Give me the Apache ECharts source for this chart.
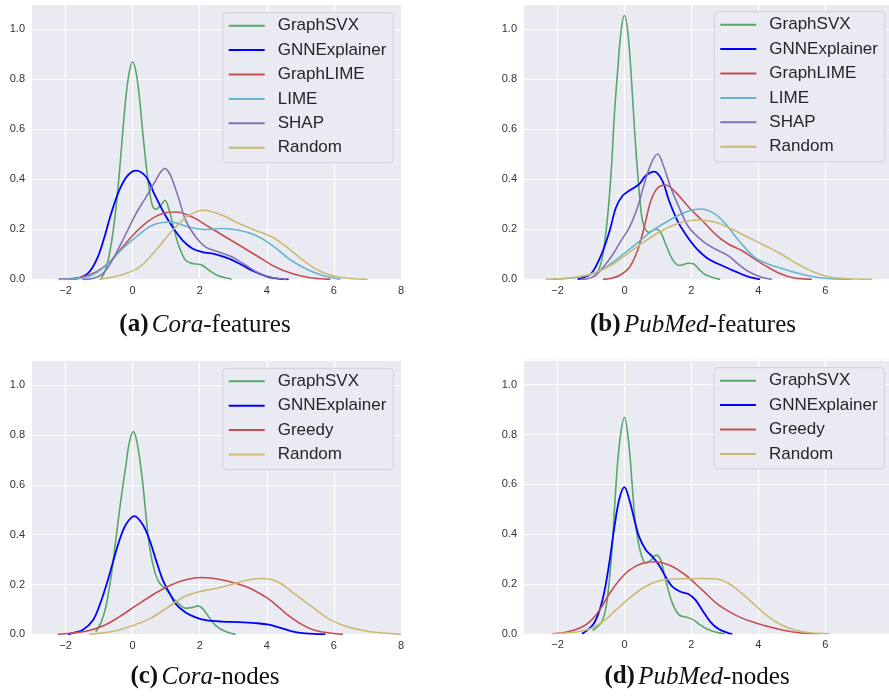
<!DOCTYPE html>
<html>
<head>
<meta charset="utf-8">
<script src="https://cdn.jsdelivr.net/npm/echarts@6/dist/echarts.min.js"></script>
<style>
html,body{margin:0;padding:0;background:#fff;}
#chart{width:889px;height:697px;}
</style>
</head>
<body>
<div id="chart"></div>
<script>
// ---------- tick labels ----------
const X_TICKS_CORA = [-2, 0, 2, 4, 6, 8];
const X_TICKS_PUBMED = [-2, 0, 2, 4, 6];
const Y_TICKS = [0, 0.2, 0.4, 0.6, 0.8, 1.0];

// ---------- captions ----------
const CAPTIONS = [
  ['(a)', 'Cora', '-features'],
  ['(b)', 'PubMed', '-features'],
  ['(c)', 'Cora', '-nodes'],
  ['(d)', 'PubMed', '-nodes']
];

// ---------- legend entries ----------
const LEGEND_FEATURES = ['GraphSVX', 'GNNExplainer', 'GraphLIME', 'LIME', 'SHAP', 'Random'];
const LEGEND_NODES = ['GraphSVX', 'GNNExplainer', 'Greedy', 'Random'];

// ---------- (a) Cora-features : density curves [x, density] ----------
const A_GraphSVX = [[-0.95,0],[-0.8,0.04],[-0.64,0.14],[-0.5,0.28],[-0.4,0.42],[-0.3,0.58],[-0.2,0.73],[-0.1,0.83],[0,0.87],[0.1,0.83],[0.2,0.73],[0.3,0.59],[0.4,0.46],[0.5,0.355],[0.59,0.295],[0.69,0.28],[0.84,0.296],[0.96,0.316],[1.09,0.276],[1.24,0.196],[1.39,0.129],[1.58,0.076],[1.78,0.063],[2.03,0.059],[2.28,0.036],[2.57,0.013],[2.87,0.003],[2.95,0]];
const A_GNNExplainer = [[-2.2,0],[-1.88,0.001],[-1.58,0.006],[-1.29,0.03],[-1.04,0.089],[-0.84,0.169],[-0.64,0.263],[-0.4,0.356],[-0.15,0.415],[0.1,0.435],[0.4,0.41],[0.64,0.343],[0.89,0.276],[1.19,0.209],[1.49,0.156],[1.78,0.123],[2.08,0.109],[2.48,0.1],[2.87,0.083],[3.27,0.056],[3.66,0.029],[4.06,0.009],[4.46,0.001],[4.65,0]];
const A_GraphLIME = [[-2.2,0],[-1.98,0.001],[-1.49,0.009],[-1.09,0.029],[-0.69,0.069],[-0.3,0.129],[0.1,0.189],[0.5,0.236],[0.89,0.263],[1.29,0.269],[1.78,0.249],[2.28,0.209],[2.77,0.169],[3.27,0.129],[3.76,0.089],[4.26,0.049],[4.75,0.023],[5.25,0.007],[5.6,0.002],[5.9,0]];
const A_LIME = [[-2.2,0],[-1.49,0.005],[-1.09,0.025],[-0.69,0.069],[-0.3,0.123],[0.1,0.169],[0.59,0.216],[1.14,0.229],[1.68,0.209],[2.18,0.199],[2.67,0.203],[3.17,0.196],[3.66,0.176],[4.16,0.136],[4.65,0.083],[5.15,0.043],[5.64,0.016],[6.04,0.004],[6.2,0]];
const A_SHAP = [[-1.5,0],[-1.19,0.003],[-0.89,0.023],[-0.64,0.069],[-0.4,0.129],[-0.15,0.196],[0.1,0.263],[0.4,0.329],[0.69,0.396],[0.83,0.428],[0.96,0.443],[1.08,0.428],[1.19,0.396],[1.39,0.316],[1.58,0.236],[1.88,0.169],[2.18,0.129],[2.57,0.109],[2.97,0.089],[3.37,0.056],[3.76,0.025],[4.16,0.007],[4.6,0]];
const A_Random = [[-1.0,0],[-0.79,0.004],[-0.3,0.019],[0.2,0.049],[0.69,0.116],[1.19,0.196],[1.68,0.256],[2.13,0.276],[2.67,0.256],[3.17,0.223],[3.66,0.196],[4.16,0.169],[4.65,0.123],[5.15,0.069],[5.64,0.029],[6.14,0.009],[6.6,0.002],[7.0,0]];

// ---------- (b) PubMed-features ----------
const B_GraphSVX = [[-0.9,0.01],[-0.76,0.04],[-0.64,0.1],[-0.49,0.27],[-0.39,0.445],[-0.3,0.66],[-0.2,0.84],[-0.1,0.995],[0,1.055],[0.1,0.99],[0.2,0.82],[0.3,0.6],[0.42,0.38],[0.52,0.248],[0.62,0.201],[0.74,0.188],[0.94,0.201],[1.08,0.188],[1.23,0.141],[1.43,0.081],[1.63,0.055],[1.92,0.064],[2.07,0.061],[2.22,0.041],[2.41,0.019],[2.71,0.004],[2.86,0]];
const B_GNNExplainer = [[-1.4,0],[-1.03,0.019],[-0.84,0.055],[-0.64,0.115],[-0.44,0.195],[-0.25,0.288],[-0.05,0.335],[0.15,0.355],[0.44,0.381],[0.64,0.415],[0.89,0.431],[1.13,0.395],[1.33,0.315],[1.58,0.235],[1.82,0.181],[2.12,0.128],[2.51,0.081],[2.91,0.055],[3.3,0.032],[3.69,0.011],[4.05,0]];
const B_GraphLIME = [[-0.64,0],[-0.44,0.003],[-0.15,0.015],[0.15,0.048],[0.39,0.115],[0.59,0.208],[0.79,0.315],[0.99,0.365],[1.21,0.377],[1.53,0.348],[1.92,0.288],[2.32,0.235],[2.71,0.181],[3.1,0.141],[3.5,0.115],[3.89,0.081],[4.29,0.048],[4.68,0.021],[5.07,0.005],[5.6,0]];
const B_LIME = [[-2.2,0],[-1.63,0.004],[-1.13,0.015],[-0.64,0.041],[-0.15,0.088],[0.34,0.141],[0.84,0.195],[1.33,0.235],[1.82,0.268],[2.27,0.281],[2.71,0.261],[3.1,0.208],[3.5,0.141],[3.89,0.088],[4.29,0.061],[4.68,0.044],[5.07,0.028],[5.57,0.012],[6.06,0.003],[6.8,0]];
const B_SHAP = [[-1.3,0],[-1.13,0.001],[-0.84,0.019],[-0.59,0.055],[-0.34,0.101],[-0.1,0.155],[0.15,0.208],[0.39,0.288],[0.59,0.381],[0.79,0.461],[0.99,0.501],[1.18,0.448],[1.38,0.368],[1.63,0.288],[1.92,0.208],[2.32,0.155],[2.71,0.121],[3.1,0.095],[3.4,0.061],[3.69,0.032],[4.09,0.008],[4.4,0]];
const B_Random = [[-2.36,0],[-1.82,0.003],[-1.33,0.011],[-0.84,0.028],[-0.34,0.061],[0.15,0.108],[0.64,0.155],[1.13,0.195],[1.63,0.224],[2.17,0.237],[2.71,0.228],[3.2,0.201],[3.69,0.168],[4.19,0.135],[4.68,0.101],[5.17,0.061],[5.67,0.028],[6.16,0.008],[6.7,0.002],[7.4,0]];

// ---------- (c) Cora-nodes ----------
const C_GraphSVX = [[-1.1,0.01],[-0.94,0.048],[-0.79,0.115],[-0.64,0.235],[-0.5,0.381],[-0.35,0.541],[-0.2,0.68],[-0.1,0.77],[0.02,0.815],[0.1,0.79],[0.2,0.715],[0.3,0.608],[0.4,0.475],[0.5,0.355],[0.64,0.261],[0.79,0.208],[0.99,0.181],[1.19,0.148],[1.39,0.121],[1.58,0.104],[1.78,0.108],[1.95,0.114],[2.08,0.104],[2.28,0.068],[2.48,0.035],[2.77,0.011],[3.07,0]];
const C_GNNExplainer = [[-1.93,0],[-1.83,0.004],[-1.49,0.017],[-1.19,0.055],[-0.99,0.115],[-0.79,0.195],[-0.59,0.288],[-0.4,0.375],[-0.2,0.441],[0.05,0.475],[0.3,0.441],[0.5,0.381],[0.69,0.301],[0.89,0.221],[1.09,0.168],[1.29,0.121],[1.58,0.088],[1.88,0.068],[2.18,0.057],[2.67,0.051],[3.17,0.049],[3.66,0.045],[4.06,0.039],[4.36,0.028],[4.75,0.012],[5.15,0.004],[5.75,0]];
const C_Greedy = [[-2.23,0],[-1.88,0.004],[-1.39,0.012],[-0.89,0.033],[-0.4,0.07],[0.1,0.115],[0.59,0.158],[1.09,0.195],[1.58,0.219],[2.08,0.228],[2.57,0.221],[3.07,0.205],[3.56,0.181],[4.06,0.141],[4.36,0.108],[4.65,0.075],[5.05,0.039],[5.45,0.015],[5.94,0.004],[6.27,0]];
const C_Random = [[-1.29,0],[-0.99,0.004],[-0.5,0.014],[0,0.035],[0.5,0.062],[0.99,0.103],[1.49,0.148],[1.98,0.171],[2.48,0.184],[2.97,0.201],[3.47,0.219],[3.91,0.224],[4.36,0.208],[4.85,0.16],[5.35,0.11],[5.84,0.062],[6.34,0.033],[6.8,0.017],[7.3,0.007],[8.0,0]];

// ---------- (d) PubMed-nodes ----------
const D_GraphSVX = [[-0.95,0.012],[-0.89,0.02],[-0.69,0.045],[-0.56,0.1],[-0.46,0.203],[-0.36,0.363],[-0.27,0.563],[-0.15,0.763],[0,0.869],[0.13,0.763],[0.25,0.563],[0.34,0.429],[0.49,0.323],[0.64,0.283],[0.79,0.296],[0.94,0.316],[1.08,0.296],[1.23,0.216],[1.43,0.123],[1.63,0.076],[1.82,0.067],[2.02,0.059],[2.22,0.04],[2.46,0.019],[2.71,0.007],[3.0,0]];
const D_GNNExplainer = [[-1.27,0],[-1.23,0.003],[-0.94,0.036],[-0.74,0.096],[-0.59,0.176],[-0.44,0.296],[-0.3,0.429],[-0.15,0.543],[0,0.589],[0.15,0.536],[0.3,0.456],[0.44,0.389],[0.64,0.336],[0.84,0.309],[1.03,0.276],[1.23,0.229],[1.43,0.189],[1.67,0.169],[1.92,0.159],[2.12,0.136],[2.32,0.096],[2.56,0.049],[2.81,0.019],[3.1,0.003],[3.22,0]];
const D_Greedy = [[-2.12,0],[-1.72,0.007],[-1.33,0.023],[-1.03,0.049],[-0.74,0.096],[-0.44,0.163],[-0.15,0.216],[0.15,0.256],[0.54,0.283],[0.89,0.289],[1.33,0.276],[1.82,0.236],[2.32,0.176],[2.81,0.116],[3.3,0.076],[3.79,0.049],[4.29,0.029],[4.78,0.013],[5.27,0.003],[5.84,0]];
const D_Random = [[-2.17,0],[-1.92,0.002],[-1.43,0.007],[-1.03,0.02],[-0.64,0.049],[-0.25,0.096],[0.15,0.143],[0.54,0.183],[0.94,0.209],[1.33,0.219],[1.8,0.221],[2.3,0.222],[2.71,0.221],[3.1,0.203],[3.5,0.163],[3.89,0.116],[4.29,0.069],[4.68,0.036],[5.07,0.016],[5.47,0.005],[6.14,0]];

// ---------- styling ----------
const COLORS = {
  GraphSVX: '#55A868', GNNExplainer: '#0000FF', GraphLIME: '#C44E52',
  Greedy: '#C44E52', LIME: '#64B5CD', SHAP: '#8172B2', Random: '#CCB974'
};
const BG = '#EAEAF2';
const TXT = '#333333';
const SANS = 'Liberation Sans, Arial, sans-serif';
const SERIF = 'Liberation Serif, Times New Roman, serif';

const panels = [
  { grid: {left: 32, top: 4.3, width: 369, height: 275}, xMin: -3, xMax: 8, xTicks: X_TICKS_CORA,
    legend: {left: 222.7, top: 12.7}, names: LEGEND_FEATURES,
    data: [A_GraphSVX, A_GNNExplainer, A_GraphLIME, A_LIME, A_SHAP, A_Random],
    caption: {x: 205, y: 325} },
  { grid: {left: 524, top: 4.3, width: 365, height: 275}, xMin: -3, xMax: 7.9, xTicks: X_TICKS_PUBMED,
    legend: {left: 714.3, top: 11.7}, names: LEGEND_FEATURES,
    data: [B_GraphSVX, B_GNNExplainer, B_GraphLIME, B_LIME, B_SHAP, B_Random],
    caption: {x: 693, y: 325} },
  { grid: {left: 32, top: 360.5, width: 369, height: 273.8}, xMin: -3, xMax: 8, xTicks: X_TICKS_CORA,
    legend: {left: 222.7, top: 368.3}, names: LEGEND_NODES,
    data: [C_GraphSVX, C_GNNExplainer, C_Greedy, C_Random],
    caption: {x: 205, y: 677} },
  { grid: {left: 524, top: 359.8, width: 365, height: 274}, xMin: -3, xMax: 7.9, xTicks: X_TICKS_PUBMED,
    legend: {left: 714, top: 367.7}, names: LEGEND_NODES,
    data: [D_GraphSVX, D_GNNExplainer, D_Greedy, D_Random],
    caption: {x: 697, y: 677} }
];

const option = {
  animation: false,
  backgroundColor: '#ffffff',
  grid: [], xAxis: [], yAxis: [], series: [], legend: [], graphic: []
};

panels.forEach((p, i) => {
  option.grid.push(Object.assign({show: true, backgroundColor: BG, borderWidth: 0, containLabel: false}, p.grid));
  option.xAxis.push({
    type: 'value', gridIndex: i, min: p.xMin, max: p.xMax,
    axisLine: {show: false},
    axisTick: {show: false, customValues: p.xTicks},
    axisLabel: {customValues: p.xTicks, color: TXT, fontSize: 11, fontFamily: SANS, margin: 6,
      formatter: v => String(v).replace('-', '\u2212')},
    splitLine: {show: true, lineStyle: {color: '#ffffff', width: 1.2}}
  });
  option.yAxis.push({
    type: 'value', gridIndex: i, min: 0, max: 1.1, interval: 0.2,
    axisLine: {show: false}, axisTick: {show: false},
    axisLabel: {color: TXT, fontSize: 11, fontFamily: SANS, margin: 7,
      formatter: v => (v > 1.05 ? '' : v.toFixed(1))},
    splitLine: {show: true, lineStyle: {color: '#ffffff', width: 1.2}}
  });
  p.names.forEach((name, k) => {
    option.series.push({
      type: 'line', name: name, xAxisIndex: i, yAxisIndex: i,
      data: p.data[k], smooth: 0.35, symbol: 'none', clip: true,
      lineStyle: {color: COLORS[name], width: name === 'GNNExplainer' ? 1.8 : 1.6},
      itemStyle: {color: COLORS[name]}
    });
  });
  option.legend.push({
    data: p.names, orient: 'vertical', left: p.legend.left, top: p.legend.top,
    icon: 'rect', itemWidth: 36, itemHeight: 2, itemGap: 4.4,
    padding: [3, 7, 5, 6],
    backgroundColor: BG, borderColor: '#D0D0D6', borderWidth: 1, borderRadius: 4,
    selectedMode: false,
    textStyle: {color: '#262626', fontSize: 17, fontFamily: SANS, lineHeight: 20, padding: [0, 0, 0, 8]}
  });
  const c = CAPTIONS[i];
  option.graphic.push({
    type: 'text', x: p.caption.x, y: p.caption.y,
    style: {
      text: '{b|' + c[0] + '} {it|' + c[1] + '}{n|' + c[2] + '}',
      align: 'center', verticalAlign: 'middle',
      rich: {
        b: {fontFamily: SERIF, fontWeight: 'bold', fontSize: 25, fill: '#111'},
        it: {fontFamily: SERIF, fontStyle: 'italic', fontSize: 25, fill: '#111'},
        n: {fontFamily: SERIF, fontSize: 25, fill: '#111'}
      }
    }
  });
});

const chart = echarts.init(document.getElementById('chart'), null, {renderer: 'canvas'});
chart.setOption(option);
</script>
</body>
</html>
